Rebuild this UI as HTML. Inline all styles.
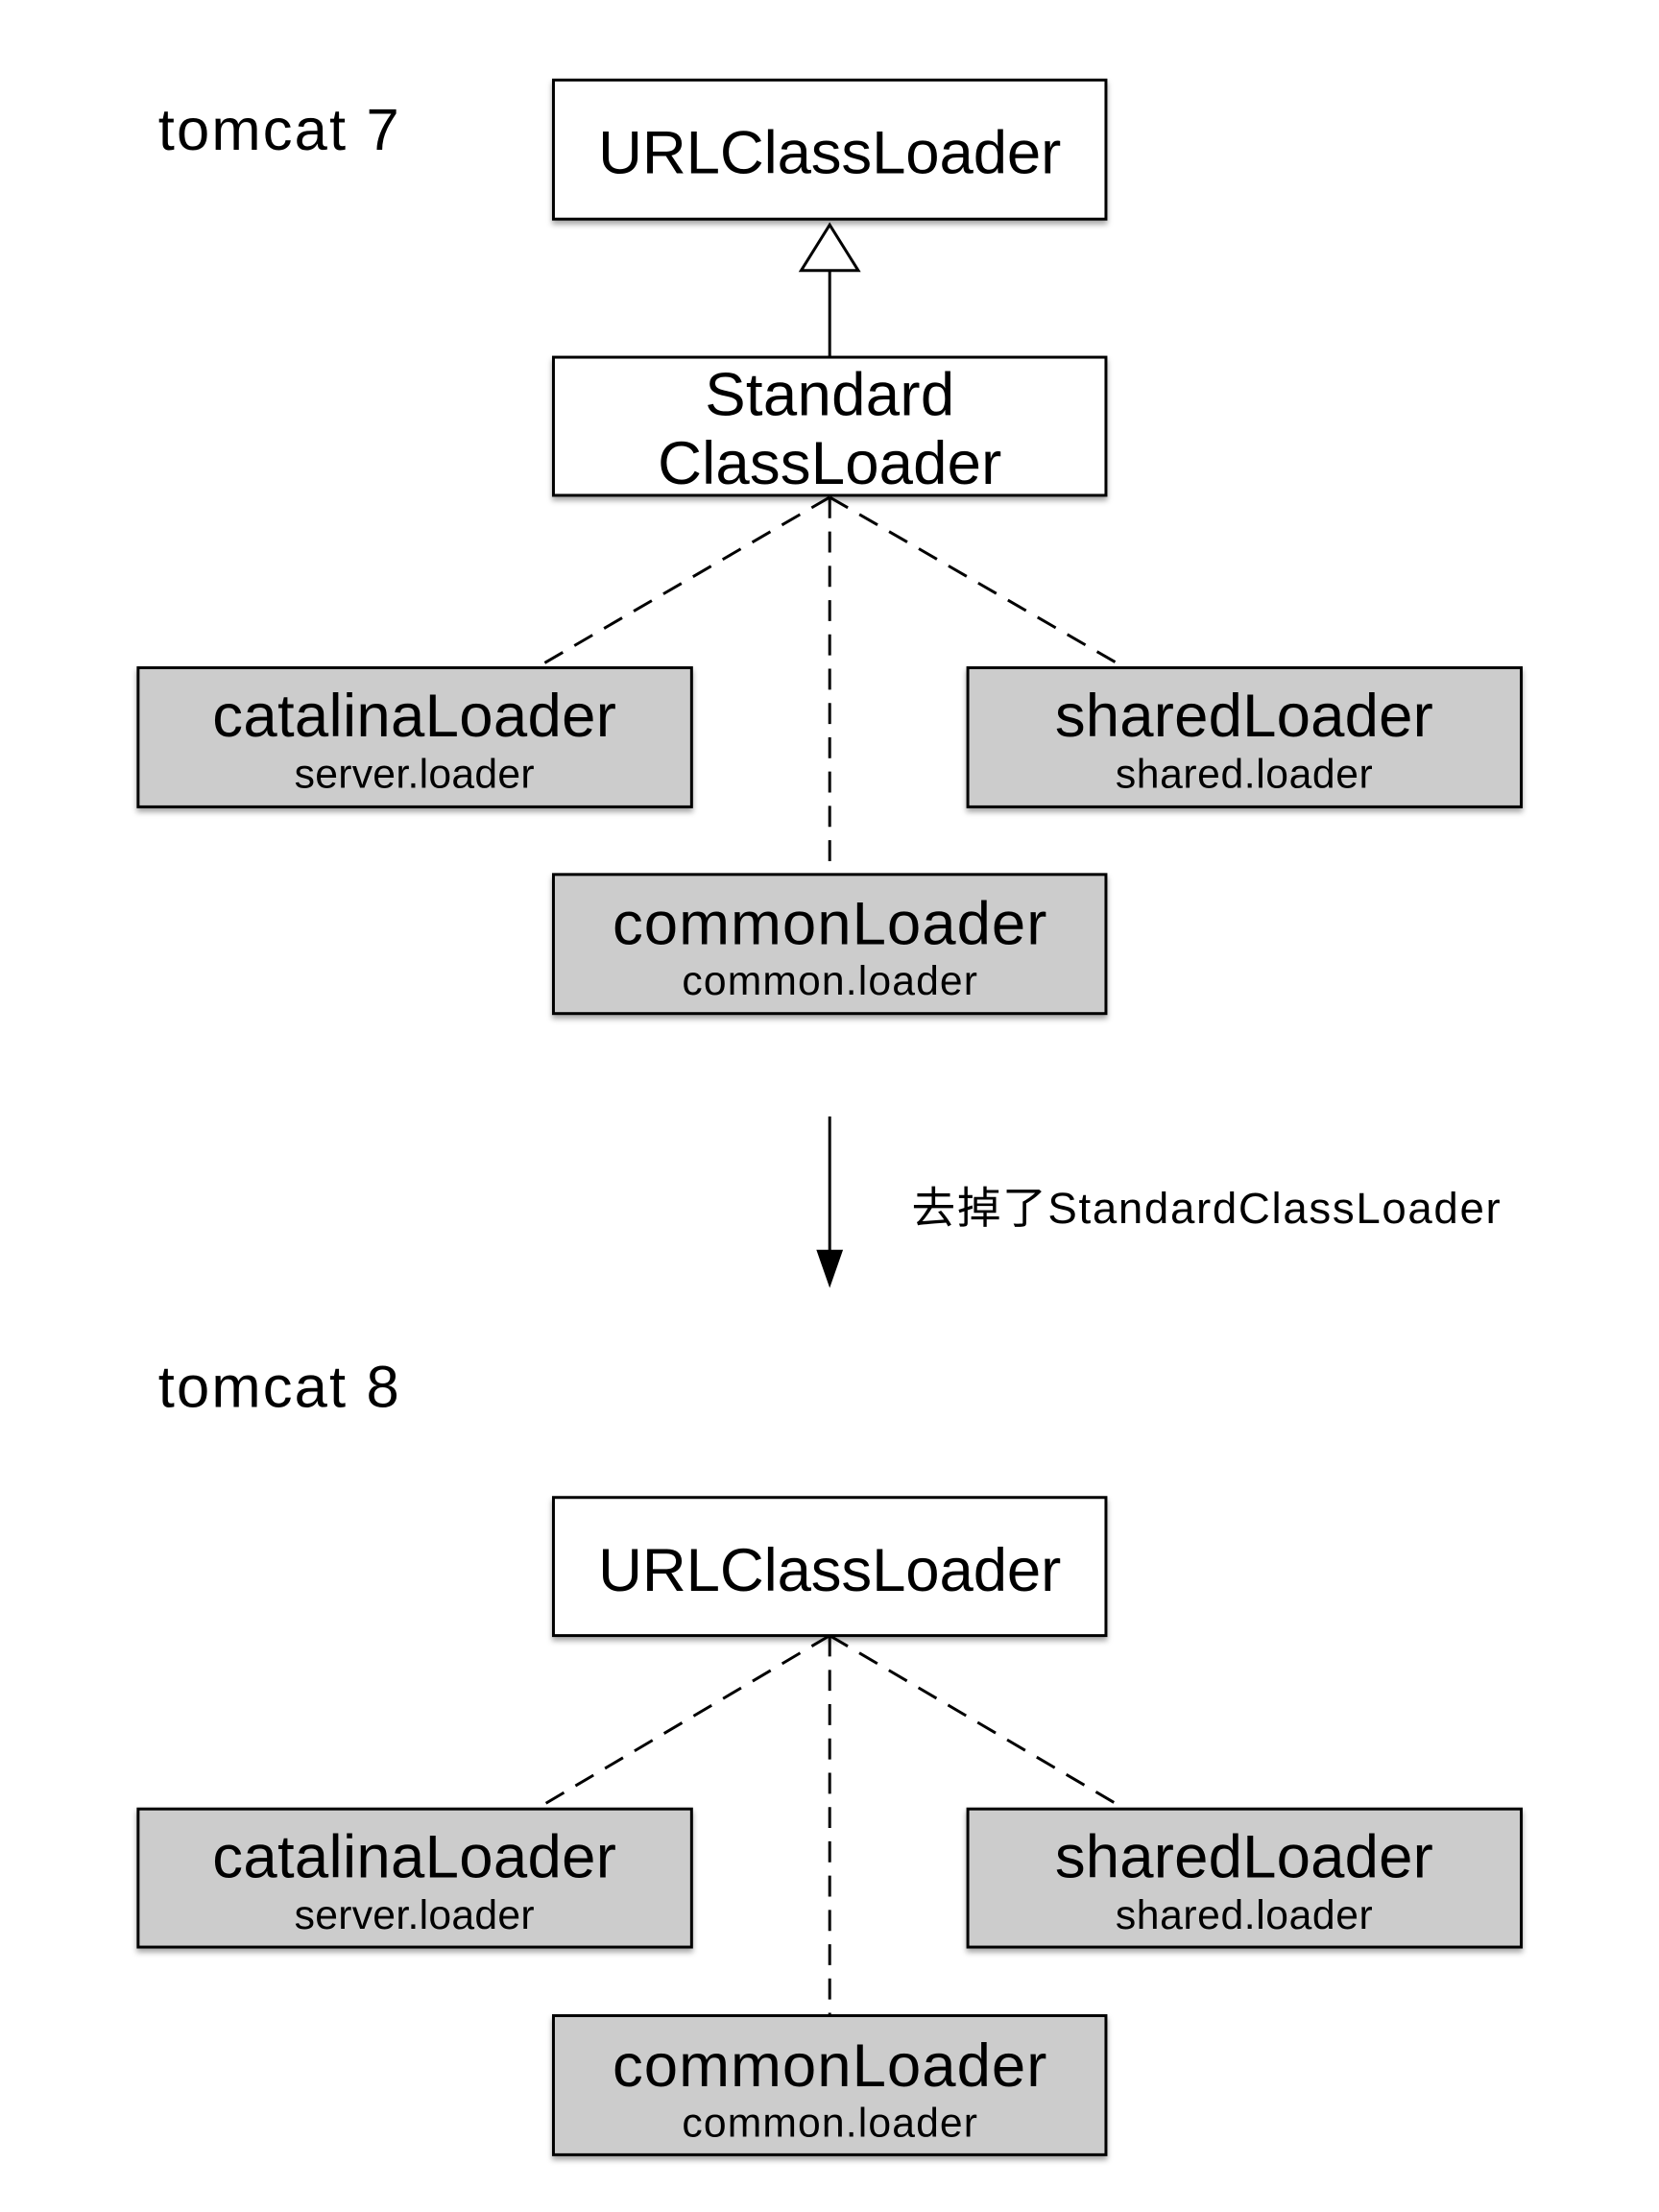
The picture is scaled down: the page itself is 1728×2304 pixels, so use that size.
<!DOCTYPE html>
<html><head><meta charset="utf-8"><style>
html,body{margin:0;padding:0;background:#fff;}
svg{display:block;}
text{font-family:"Liberation Sans","Noto Sans CJK SC",sans-serif;fill:#000;}
</style></head><body>
<svg width="1728" height="2304" viewBox="0 0 1728 2304" xmlns="http://www.w3.org/2000/svg">
<defs>
<filter id="sh" x="-5%" y="-10%" width="115%" height="130%">
<feDropShadow dx="0" dy="4" stdDeviation="3" flood-color="#000" flood-opacity="0.35"/>
</filter>
</defs>
<g transform="scale(0.9922)">
<text x="166" y="157" font-size="62" textLength="253">tomcat 7</text>
<text x="166" y="1477" font-size="62" textLength="253">tomcat 8</text>

<g stroke="#000" stroke-width="3" fill="none">
<line x1="871" y1="284" x2="871" y2="375"/>
<polygon points="871,236 841,284 901,284" fill="#fff"/>
<g stroke-dasharray="22,14">
<line x1="871" y1="522" x2="563" y2="701"/>
<line x1="871" y1="522" x2="1181" y2="701"/>
<line x1="871" y1="522" x2="871" y2="918"/>
<line x1="871" y1="1717" x2="563" y2="1899"/>
<line x1="871" y1="1717" x2="1181" y2="1899"/>
<line x1="871" y1="1717" x2="871" y2="2116"/>
</g>
<line x1="871" y1="1172" x2="871" y2="1316"/>
</g>
<polygon points="871,1352 857,1312 885,1312" fill="#000"/>

<g stroke="#000" stroke-width="3" filter="url(#sh)">
<rect x="581" y="84" width="580" height="146" fill="#fff"/>
<rect x="581" y="375" width="580" height="145" fill="#fff"/>
<rect x="145" y="701" width="581" height="146" fill="#ccc"/>
<rect x="1016" y="701" width="581" height="146" fill="#ccc"/>
<rect x="581" y="918" width="580" height="146" fill="#ccc"/>
<rect x="581" y="1572" width="580" height="145" fill="#fff"/>
<rect x="145" y="1899" width="581" height="145" fill="#ccc"/>
<rect x="1016" y="1899" width="581" height="145" fill="#ccc"/>
<rect x="581" y="2116" width="580" height="146" fill="#ccc"/>
</g>

<g text-anchor="middle">
<text x="871" y="182" font-size="64" textLength="486">URLClassLoader</text>
<text x="871" y="436" font-size="64" textLength="262">Standard</text>
<text x="871" y="508" font-size="64" textLength="361">ClassLoader</text>
<text x="435" y="773" font-size="64" textLength="424">catalinaLoader</text>
<text x="435" y="827" font-size="43" textLength="252">server.loader</text>
<text x="1306" y="773" font-size="64" textLength="397">sharedLoader</text>
<text x="1306" y="827" font-size="43" textLength="270">shared.loader</text>
<text x="871" y="991" font-size="64" textLength="456">commonLoader</text>
<text x="871" y="1044" font-size="43" textLength="310">common.loader</text>

<text x="871" y="1670" font-size="64" textLength="486">URLClassLoader</text>
<text x="435" y="1971" font-size="64" textLength="424">catalinaLoader</text>
<text x="435" y="2025" font-size="43" textLength="252">server.loader</text>
<text x="1306" y="1971" font-size="64" textLength="397">sharedLoader</text>
<text x="1306" y="2025" font-size="43" textLength="270">shared.loader</text>
<text x="871" y="2190" font-size="64" textLength="456">commonLoader</text>
<text x="871" y="2243" font-size="43" textLength="310">common.loader</text>
</g>
<text x="957" y="1284" font-size="46" textLength="618">去掉了StandardClassLoader</text>
</g>
</svg>
</body></html>
